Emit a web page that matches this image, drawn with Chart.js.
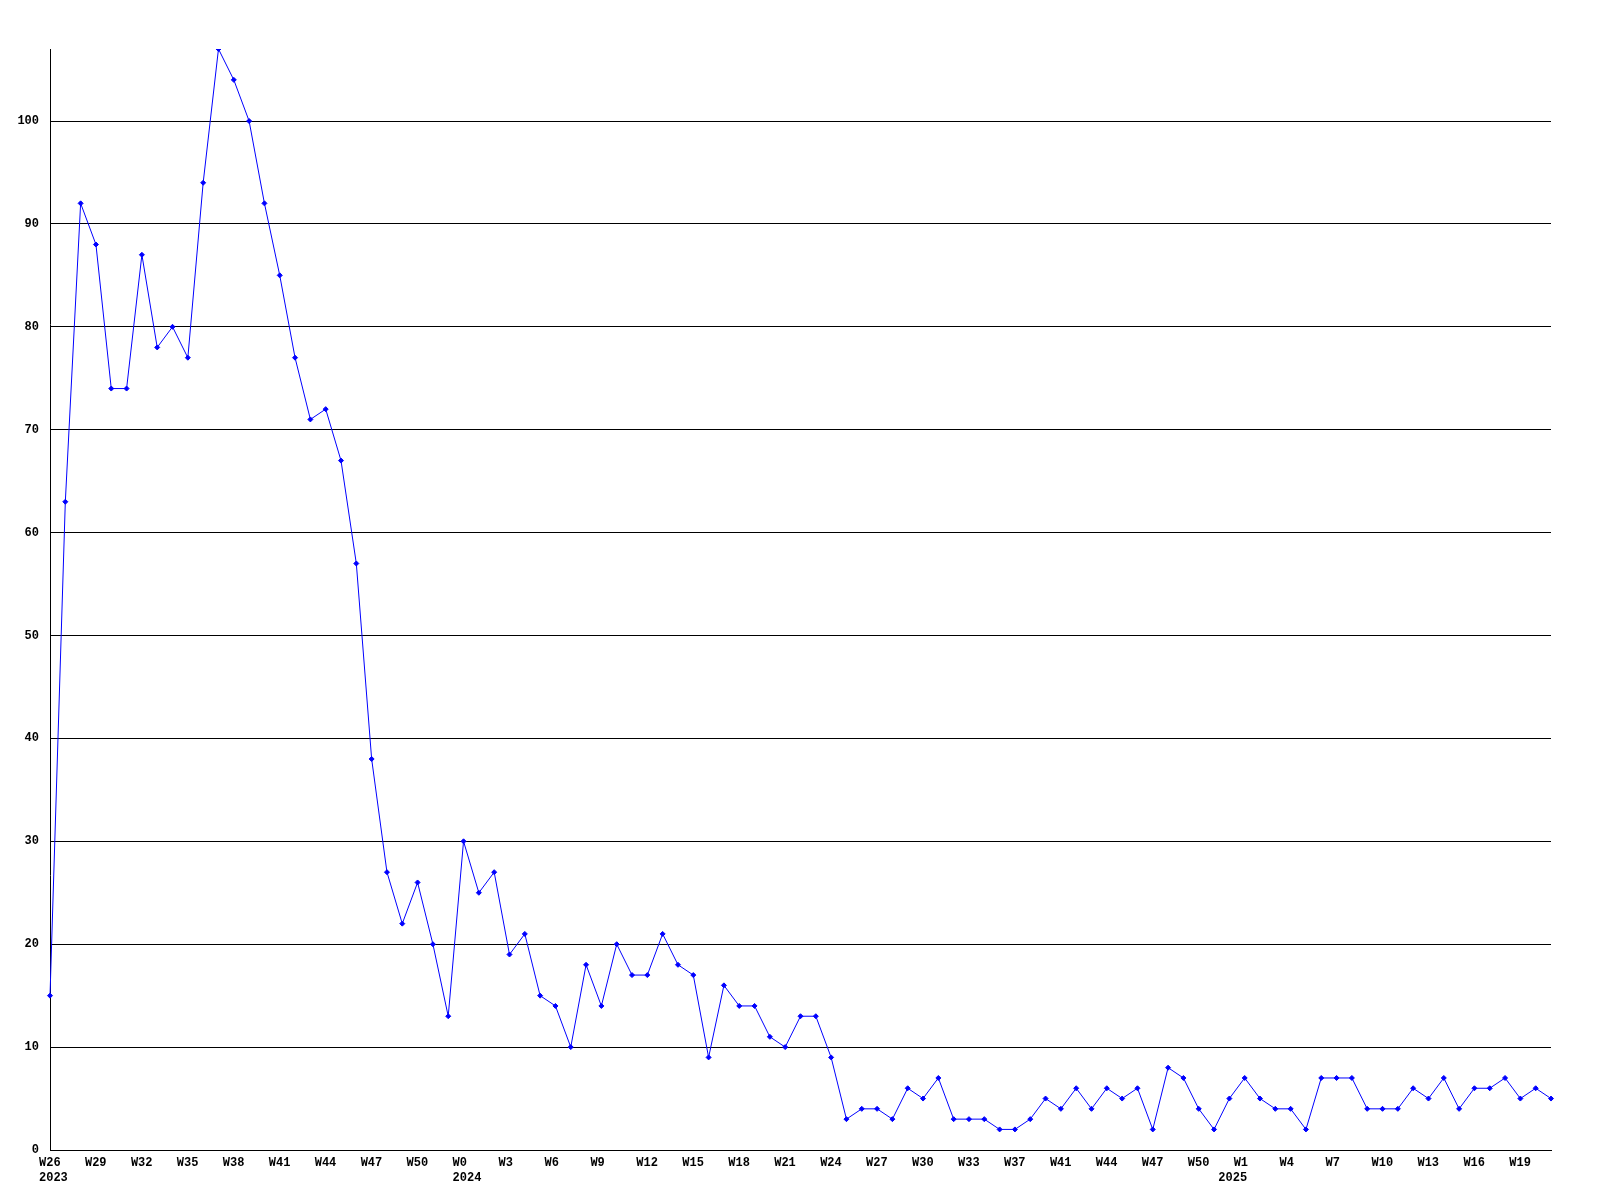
<!DOCTYPE html>
<html>
<head>
<meta charset="utf-8">
<script src="https://cdn.jsdelivr.net/npm/chart.js@4/dist/chart.umd.min.js"></script>
<style>
  html, body { margin: 0; padding: 0; background: #fff; }
  #wrap { width: 1600px; height: 1200px; }
</style>
</head>
<body>
<div id="wrap"><canvas id="chart" width="1600" height="1200"></canvas></div>
<script>
// weeks shown on the x axis (2023 W26 .. 2025 W21)
var weeks = [
    "W26", "W27", "W28", "W29", "W30", "W31", "W32", "W33", "W34", "W35",
    "W36", "W37", "W38", "W39", "W40", "W41", "W42", "W43", "W44", "W45",
    "W46", "W47", "W48", "W49", "W50", "W51", "W52",
    "W0", "W1", "W2", "W3", "W4", "W5", "W6", "W7", "W8", "W9",
    "W10", "W11", "W12", "W13", "W14", "W15", "W16", "W17", "W18", "W19",
    "W20", "W21", "W22", "W23", "W24", "W25", "W26", "W27", "W28", "W29",
    "W30", "W31", "W32", "W33", "W34", "W36", "W37", "W39", "W40", "W41",
    "W42", "W43", "W44", "W45", "W46", "W47", "W48", "W49", "W50", "W51", "W52",
    "W1", "W2", "W3", "W4", "W5", "W6", "W7", "W8", "W9", "W10",
    "W11", "W12", "W13", "W14", "W15", "W16", "W17", "W18", "W19", "W20", "W21"
];
// year printed under the week where each year starts
var years = { 0: "2023", 27: "2024", 77: "2025" };

var counts = [
    15, 63, 92, 88, 74, 74, 87, 78, 80, 77,
    94, 107, 104, 100, 92, 85, 77, 71, 72, 67,
    57, 38, 27, 22, 26, 20, 13, 30, 25, 27,
    19, 21, 15, 14, 10, 18, 14, 20, 17, 17,
    21, 18, 17, 9, 16, 14, 14, 11, 10, 13,
    13, 9, 3, 4, 4, 3, 6, 5, 7, 3,
    3, 3, 2, 2, 3, 5, 4, 6, 4, 6,
    5, 6, 2, 8, 7, 4, 2, 5, 7, 5,
    4, 4, 2, 7, 7, 7, 4, 4, 4, 6,
    5, 7, 4, 6, 6, 7, 5, 6, 5
];

var yTicks = [0, 10, 20, 30, 40, 50, 60, 70, 80, 90, 100];

var labelFont = { family: "'Liberation Mono', 'DejaVu Sans Mono', monospace", size: 12, weight: "bold" };

var ctx = document.getElementById("chart");
var myChart = new Chart(ctx, {
    type: "line",
    data: {
        labels: weeks.slice(0, counts.length),
        datasets: [{
            data: counts,
            borderColor: "#0000ff",
            backgroundColor: "#0000ff",
            borderWidth: 1,
            pointStyle: "rectRot",
            pointRadius: 2.5,
            pointBorderWidth: 1,
            fill: false,
            tension: 0
        }]
    },
    options: {
        responsive: false,
        animation: false,
        layout: { padding: { top: 49, right: 49, left: 0, bottom: 0 } },
        plugins: { legend: { display: false }, tooltip: { enabled: false } },
        scales: {
            x: {
                offset: false,
                grid: { display: false, drawTicks: false },
                border: { color: "#000", width: 1 },
                ticks: {
                    autoSkip: false,
                    maxRotation: 0,
                    minRotation: 0,
                    align: "start",
                    labelOffset: -11,
                    padding: 6,
                    color: "#000",
                    font: labelFont,
                    callback: function (val, i) {
                        var w = (i % 3 === 0) ? weeks[i] : "";
                        if (years[i]) return [w, years[i]];
                        return w === "" ? null : w;
                    }
                },
                afterFit: function (scale) { scale.height = 50; }
            },
            y: {
                min: 0,
                max: 107,
                afterBuildTicks: function (scale) {
                    scale.ticks = yTicks.map(function (v) { return { value: v }; });
                },
                grid: { color: "#000", lineWidth: 1, drawTicks: false },
                border: { color: "#000", width: 1 },
                ticks: { color: "#000", font: labelFont, padding: 11 },
                afterFit: function (scale) { scale.width = 50; }
            }
        }
    }
});
</script>
</body>
</html>
